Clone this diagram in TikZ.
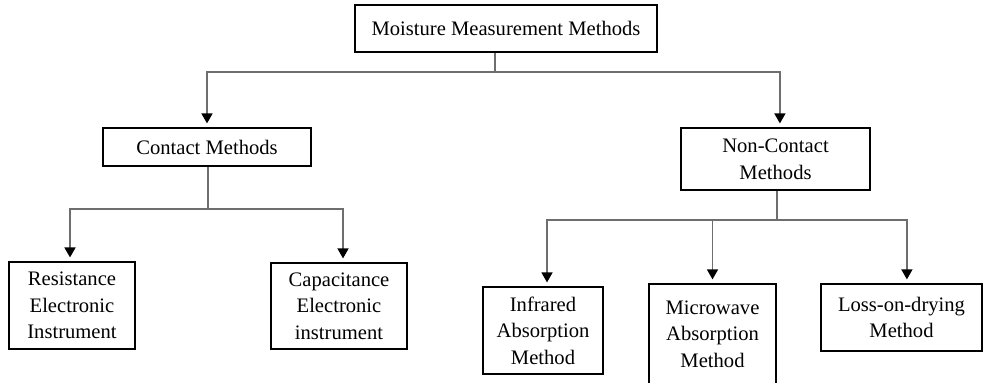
\documentclass[tikz,border=0pt]{standalone}
\usepackage{fontspec}
\setmainfont{Liberation Serif}
\usetikzlibrary{arrows.meta,positioning}
\definecolor{LinkGray}{HTML}{6E6E6E}

\begin{document}
\begin{tikzpicture}[x=0.5pt,y=-0.5pt,>=Latex]
    \tikzset{
      method/.style={draw=black,line width=0.6pt,inner sep=0pt,align=center,
        font=\fontsize{10.3pt}{13.3pt}\selectfont},
      link/.style={draw=LinkGray,line width=0.75pt},
      drop/.style={link,shorten >=2pt,-{Triangle[width=5.5pt,length=5pt,color=black]}}
    }
    \useasboundingbox (0,0) rectangle (988,382);
    % root
    \node[method,minimum width=151pt,minimum height=23.5pt] (root) at (506,28.5) {Moisture Measurement Methods};
    % second level
    \node[method,minimum width=104pt,minimum height=19pt] (contact) at (207,147) {Contact Methods};
    \node[method,minimum width=94.5pt,minimum height=31pt] (noncontact) at (775.5,159) {Non-Contact\\Methods};
    % leaves
    \node[method,minimum width=63pt,minimum height=43.5pt] (resist) at (72,305.5) {Resistance\\Electronic\\Instrument};
    \node[method,minimum width=68pt,minimum height=43pt] (capac) at (339,306) {Capacitance\\Electronic\\instrument};
    \node[method,minimum width=60pt,minimum height=43.5pt] (infra) at (543,330.5) {Infrared\\Absorption\\Method};
    \node[method,minimum width=63.5pt,minimum height=50pt] (micro) at (712.5,334) {Microwave\\Absorption\\Method};
    \node[method,minimum width=80.5pt,minimum height=33.5pt] (drying) at (901.5,317.5) {Loss-on-drying\\Method};

    \coordinate (split0) at (495,72);
    \coordinate (split1) at (208,209);
    \coordinate (split2) at (777,220);

    \draw[link] (split0 |- root.south) -- (split0);
    \draw[drop] (split0) -| (contact.north);
    \draw[drop] (split0) -| ([xshift=2.2pt]noncontact.north);

    \draw[link] (split1 |- contact.south) -- (split1);
    \draw[drop] (split1) -| ([xshift=-1pt]resist.north);
    \draw[drop] (split1) -| ([xshift=2pt]capac.north);

    \draw[link] (split2 |- noncontact.south) -- (split2);
    \draw[drop] (split2) -| ([xshift=2pt]infra.north);
    \draw[drop] (split2) -| (micro.north);
    \draw[drop] (split2) -| ([xshift=2.7pt]drying.north);
  \end{tikzpicture}
\end{document}
